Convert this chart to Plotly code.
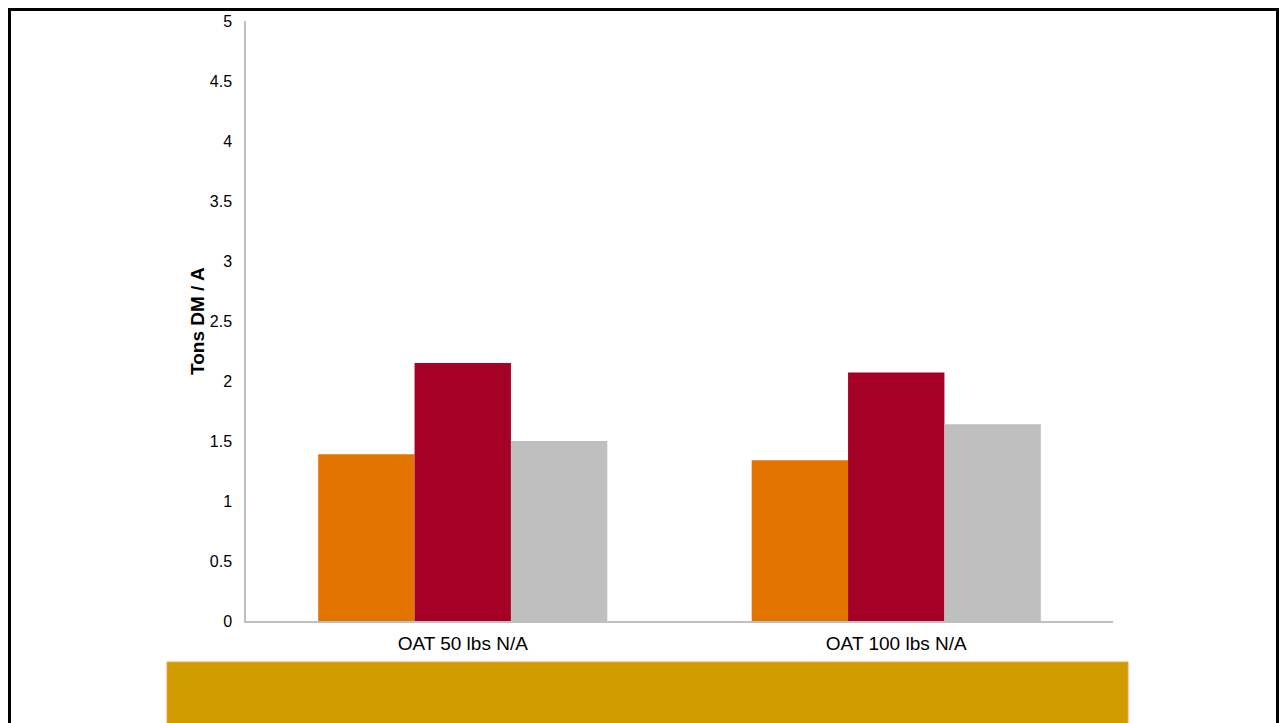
import plotly.graph_objects as go

categories = ["OAT 50 lbs N/A", "OAT 100 lbs N/A"]
series_a = [1.39, 1.34]
series_b = [2.15, 2.07]
series_c = [1.50, 1.64]
colors = ["#E37400", "#A50026", "#BFBFBF"]
y_title = "Tons DM / A"

fig = go.Figure()
for vals, col in zip([series_a, series_b, series_c], colors):
    fig.add_trace(go.Bar(x=categories, y=vals, marker=dict(color=col, line=dict(width=0)),
                         showlegend=False))

OFF = 8  # page body margin
W, H = 1288 - OFF, 723 - OFF
L, R, T, B = 246 - OFF, 1113 - OFF, 21 - OFF, 621 - OFF
pw, ph = R - L, B - T

def px(x):
    return (x - OFF - L) / pw

def py(y):
    return (B - (y - OFF)) / ph

fig.update_layout(
    width=W, height=H,
    margin=dict(l=L, r=W - R, t=T, b=H - B, pad=0),
    paper_bgcolor="white", plot_bgcolor="white",
    barmode="group", bargap=0.333, bargroupgap=0,
    font=dict(family="Liberation Sans, Arial, sans-serif", size=16, color="black"),
    yaxis=dict(range=[0, 5], dtick=0.5, showgrid=False, zeroline=False, automargin=False,
               showline=True, linecolor="#BFBFBF", linewidth=1.5,
               ticks="", ticklabelstandoff=9, tickfont=dict(size=16)),
    xaxis=dict(showgrid=False, zeroline=False, showline=True, linecolor="#BFBFBF",
               automargin=False, linewidth=1.5, ticks="", ticklabelstandoff=4,
               tickfont=dict(size=19)),
    annotations=[
        dict(text="<b>" + y_title + "</b>", textangle=-90, xref="paper", yref="paper",
             x=px(197), y=py(321), xanchor="center", yanchor="middle", showarrow=False,
             font=dict(size=19)),
    ],
    shapes=[
        dict(type="rect", xref="paper", yref="paper",
             x0=px(167), x1=px(1128), y0=py(662), y1=py(740),
             fillcolor="#D19C00", line=dict(color="#F0A050", width=1), layer="above"),
        dict(type="rect", xref="paper", yref="paper",
             x0=px(9.5), x1=px(1277.5), y0=py(9.5), y1=py(740),
             fillcolor="rgba(0,0,0,0)", line=dict(color="black", width=3), layer="above"),
    ],
)

fig.write_html("out.html")
